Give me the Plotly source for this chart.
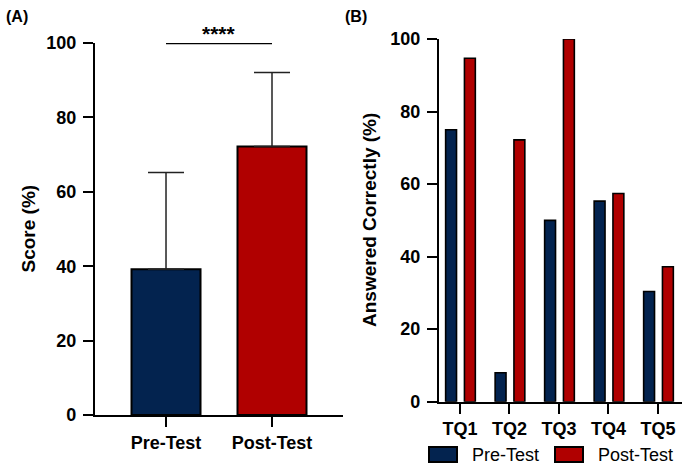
import plotly.graph_objects as go

# ---- data ----
groups_a = ["Pre-Test", "Post-Test"]
mean_a = [39.2, 72.2]
sd_a = [26.0, 19.9]

questions = ["TQ1", "TQ2", "TQ3", "TQ4", "TQ5"]
pre_b = [75.0, 8.0, 50.0, 55.3, 30.4]
post_b = [94.7, 72.2, 100.0, 57.4, 37.2]

NAVY = "#03234F"
RED = "#B00000"
W, H = 685, 467
FONT = "Arial, Liberation Sans, sans-serif"

fig = go.Figure()

# Panel A
fig.add_trace(go.Bar(
    x=list(range(len(groups_a))), y=mean_a, width=0.651,
    marker=dict(color=[NAVY, RED], line=dict(color="black", width=2)),
    error_y=dict(type="data", array=sd_a, arrayminus=[0] * len(sd_a), symmetric=False,
                 width=18, thickness=1.5, color="#222222"),
    xaxis="x", yaxis="y", showlegend=False, hoverinfo="y",
))

# Panel B
xq = list(range(len(questions)))
fig.add_trace(go.Bar(
    x=xq, y=pre_b, width=0.22, offset=-0.29, name="Pre-Test",
    marker=dict(color=NAVY, line=dict(color="black", width=1.6)),
    xaxis="x2", yaxis="y2", showlegend=False,
))
fig.add_trace(go.Bar(
    x=xq, y=post_b, width=0.22, offset=0.09, name="Post-Test",
    marker=dict(color=RED, line=dict(color="black", width=1.6)),
    xaxis="x2", yaxis="y2", showlegend=False,
))

axis_common = dict(showline=True, linecolor="black", linewidth=2.2, ticks="outside",
                   ticklen=10, tickwidth=2.2, tickcolor="black", showgrid=False,
                   zeroline=False, automargin=False,
                   tickfont=dict(family=FONT, size=18, color="black", weight="bold"))

fig.update_layout(
    template="none",
    width=W, height=H, margin=dict(l=0, r=0, t=0, b=0, pad=0),
    paper_bgcolor="white", plot_bgcolor="white",
    barmode="overlay",
    xaxis=dict(domain=[95 / W, 342.7 / W], range=[-0.67, 1.667], tickvals=[0, 1],
               ticktext=groups_a, anchor="y", **axis_common),
    yaxis=dict(domain=[1 - 415 / H, 1 - 43 / H], range=[0, 100], tickvals=[0, 20, 40, 60, 80, 100],
               anchor="x", ticklabelstandoff=3, **axis_common),
    xaxis2=dict(domain=[439 / W, 682 / W], range=[-0.424, 4.485], tickvals=xq,
                ticktext=questions, anchor="y2", **axis_common),
    yaxis2=dict(domain=[1 - 401.7 / H, 1 - 39 / H], range=[0, 100], tickvals=[0, 20, 40, 60, 80, 100],
                anchor="x2", ticklabelstandoff=3, **axis_common),
    showlegend=False,
)

# significance bar
fig.add_shape(type="line", xref="x", yref="y", x0=0, x1=1, y0=100, y1=100,
              line=dict(color="black", width=2.6))
fig.add_annotation(xref="x", yref="y", x=0.5, y=100, yshift=10, text="<b>****</b>",
                   showarrow=False, font=dict(family=FONT, size=21, color="black"))

# panel labels
fig.add_annotation(xref="paper", yref="paper", x=4 / W, y=1 - 16 / H, xanchor="left", yanchor="middle",
                   text="<b>(A)</b>", showarrow=False, font=dict(family=FONT, size=16, color="black"))
fig.add_annotation(xref="paper", yref="paper", x=343 / W, y=1 - 16 / H, xanchor="left", yanchor="middle",
                   text="<b>(B)</b>", showarrow=False, font=dict(family=FONT, size=16, color="black"))

# y titles
fig.add_annotation(xref="paper", yref="paper", x=28.5 / W, y=1 - 229 / H, textangle=-90,
                   xanchor="center", yanchor="middle",
                   text="<b>Score (%)</b>", showarrow=False, font=dict(family=FONT, size=19, color="black"))
fig.add_annotation(xref="paper", yref="paper", x=369 / W, y=1 - 220 / H, textangle=-90,
                   xanchor="center", yanchor="middle",
                   text="<b>Answered Correctly (%)</b>", showarrow=False,
                   font=dict(family=FONT, size=19, color="black"))

# legend (manual swatches)
legend_items = [("Pre-Test", NAVY, 429, 470), ("Post-Test", RED, 555, 596)]
for label, col, sx, tx in legend_items:
    fig.add_shape(type="rect", xref="paper", yref="paper", x0=sx / W, x1=(sx + 28) / W,
                  y0=1 - 462 / H, y1=1 - 447 / H, fillcolor=col, line=dict(color="black", width=2))
    fig.add_annotation(xref="paper", yref="paper", x=tx / W, y=1 - 454.5 / H, xanchor="left",
                       yanchor="middle", text=label, showarrow=False,
                       font=dict(family=FONT, size=18, color="black"))

fig.write_html("out.html", config={"displayModeBar": False},
               post_script="document.body.style.margin='0px';document.body.style.overflow='hidden';")
